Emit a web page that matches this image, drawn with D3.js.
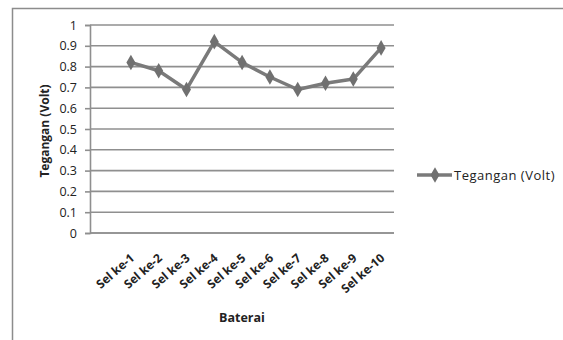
<!DOCTYPE html>
<html>
<head>
<meta charset="utf-8">
<script src="https://cdn.jsdelivr.net/npm/d3@7/dist/d3.min.js"></script>
<style>
  html, body { margin: 0; padding: 0; background: #fff; }
  svg { display: block; }
  text { font-family: "Open Sans", "Noto Sans", sans-serif; fill: #222; }
</style>
</head>
<body>
<svg id="chart" width="563" height="340"></svg>
<script>
// Cell voltage per battery cell
const categories = ["Sel ke-1", "Sel ke-2", "Sel ke-3", "Sel ke-4", "Sel ke-5",
                    "Sel ke-6", "Sel ke-7", "Sel ke-8", "Sel ke-9", "Sel ke-10"];
const voltages = [0.82, 0.78, 0.69, 0.92, 0.82, 0.75, 0.69, 0.72, 0.74, 0.89];
const yTicks = [0, 0.1, 0.2, 0.3, 0.4, 0.5, 0.6, 0.7, 0.8, 0.9, 1];
const seriesName = "Tegangan (Volt)";
const xTitle = "Baterai";
const yTitle = "Tegangan (Volt)";

const svg = d3.select("#chart");

// chart frame
svg.append("rect")
  .attr("x", 12.5).attr("y", 8.5)
  .attr("width", 600).attr("height", 400)
  .attr("fill", "none").attr("stroke", "#8c8c8c").attr("stroke-width", 1.5);

const plot = { left: 90, right: 394, top: 25, bottom: 233 };

const y = d3.scaleLinear().domain([0, 1]).range([plot.bottom, plot.top]);
const x = d3.scalePoint().domain(categories).range([117, 395]).padding(0.5);

// horizontal gridlines
svg.append("g").selectAll("line").data(yTicks).join("line")
  .attr("x1", plot.left).attr("x2", plot.right)
  .attr("y1", d => y(d)).attr("y2", d => y(d))
  .attr("stroke", "#8f8f8f").attr("stroke-width", 1.6);

// y axis
const yAxis = d3.axisLeft(y).tickValues(yTicks).tickSize(5).tickPadding(8)
  .tickFormat(d => d === 0 || d === 1 ? d3.format("d")(d) : d3.format(".1f")(d));
const gy = svg.append("g").attr("transform", `translate(${plot.left},0)`).call(yAxis);
gy.select(".domain").attr("stroke", "#8f8f8f").attr("stroke-width", 1.6);
gy.selectAll(".tick line").attr("stroke", "#8f8f8f").attr("stroke-width", 1.6);
gy.selectAll(".tick text").attr("font-size", 12.5).attr("fill", "#222")
  .style("font-family", "'Open Sans', sans-serif");

// x axis
const xAxis = d3.axisBottom(x).tickSize(0).tickPadding(0);
const gx = svg.append("g").attr("transform", `translate(0,${plot.bottom})`).call(xAxis);
gx.select(".domain").attr("d", `M${plot.left},0H${plot.right}`)
  .attr("stroke", "#8f8f8f").attr("stroke-width", 1.6);
gx.selectAll(".tick text")
  .attr("font-size", 12).attr("font-weight", "bold").attr("fill", "#222")
  .style("font-family", "'Open Sans', sans-serif")
  .attr("text-anchor", "end")
  .attr("x", 0).attr("y", 0)
  .attr("dy", "0.35em")
  .attr("transform", "translate(1,23) rotate(-41)");

// series line and diamond markers
const line = d3.line().x((d, i) => x(categories[i])).y(d => y(d));
svg.append("path").datum(voltages)
  .attr("d", line).attr("fill", "none")
  .attr("stroke", "#7a7a7a").attr("stroke-width", 3.5).attr("stroke-linejoin", "round");

const diamond = d3.symbol().type(d3.symbolDiamond).size(70);
svg.append("g").selectAll("path").data(voltages).join("path")
  .attr("d", diamond)
  .attr("transform", (d, i) => `translate(${x(categories[i])},${y(d)})`)
  .attr("fill", "#707070");

// axis titles
svg.append("text")
  .attr("transform", `translate(45,${(plot.top + plot.bottom) / 2 + 2}) rotate(-90)`)
  .attr("text-anchor", "middle").attr("dy", "0.35em")
  .attr("font-size", 12).attr("font-weight", "bold")
  .text(yTitle);

svg.append("text")
  .attr("x", (plot.left + plot.right) / 2).attr("y", 318)
  .attr("text-anchor", "middle").attr("dy", "0.35em")
  .attr("font-size", 12.5).attr("font-weight", "bold")
  .text(xTitle);

// legend
const lg = svg.append("g").attr("transform", "translate(417,175)");
lg.append("line").attr("x1", 0).attr("x2", 35).attr("y1", 0).attr("y2", 0)
  .attr("stroke", "#7a7a7a").attr("stroke-width", 3.5);
lg.append("path").attr("d", diamond).attr("transform", "translate(18,0)").attr("fill", "#707070");
lg.append("text").attr("x", 37).attr("y", 0).attr("dy", "0.35em")
  .attr("font-size", 13).attr("letter-spacing", 0.5).text(seriesName);
</script>
</body>
</html>
